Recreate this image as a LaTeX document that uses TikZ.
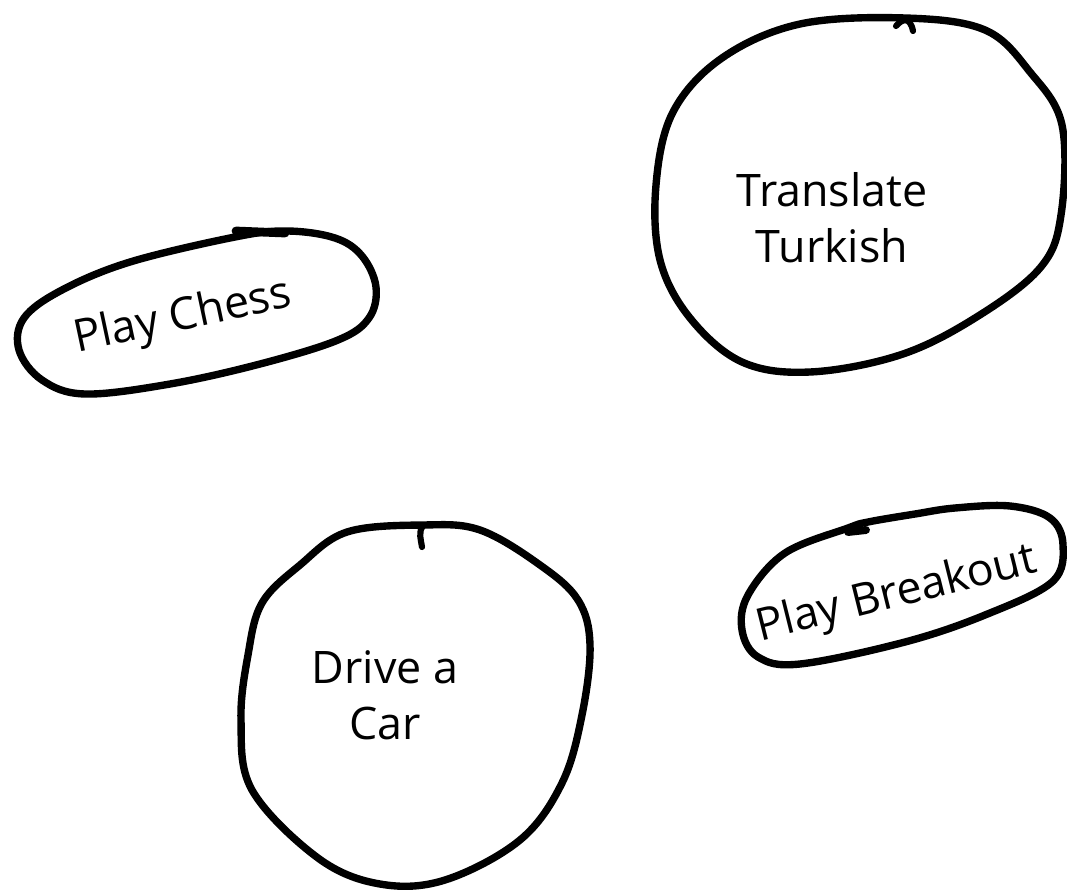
\documentclass[tikz,border=0pt]{standalone}
\usepackage{fontspec}
\setmainfont{Open Sans}
\usepackage{xcolor}
\definecolor{inkblack}{RGB}{0,0,0}

\tikzset{
  blob/.style={draw=inkblack, line width=4.2pt, line join=round, line cap=round},
  lbl/.style={font=\fontsize{25.5}{32}\selectfont, align=center, inner sep=0pt}
}

\begin{document}
\begin{tikzpicture}[x=0.02cm, y=-0.02cm]

% Background
\fill[white] (0,0) rectangle (1067,889);
\useasboundingbox (0,0) rectangle (1067,889);

% Play Chess
\draw[blob] plot[smooth cycle, tension=0.6] coordinates {
(287,231) (335,238) (362,256) (376,287) (369,318) (338,340) (260,364)
(170,384) (85,394) (42,380) (19,350) (24,318) (62,290) (130,262) (235,237)};
\draw[blob, line width=5pt] (236,231) -- (285,233);
\node[lbl, rotate=12] (chess) at (183,318) {Play Chess};

% Translate Turkish
\draw[blob] plot[smooth cycle, tension=0.6] coordinates {
(905,18) (985,30) (1030,72) (1062,125) (1061,215) (1040,268) (975,318)
(900,355) (810,372) (742,362) (690,318) (660,260) (656,185) (673,112)
(722,58) (800,24)};
\draw[blob, line width=3.5pt] (896,26) .. controls (902,19) and (910,16) .. (913,31);
\node[lbl] (turkish) at (832,218) {Translate\\Turkish};

% Drive a Car
\draw[blob] plot[smooth cycle, tension=0.6] coordinates {
(423,525) (480,530) (540,565) (578,600) (590,645) (582,715) (562,783)
(520,840) (445,880) (380,884) (318,858) (252,790) (241,720) (248,655)
(262,603) (300,565) (347,532)};
\draw[blob, line width=3.5pt] (423,526) .. controls (418,532) and (421,540) .. (422,547);
\node[lbl] (car) at (385,695) {Drive a\\Car};

% Play Breakout
\draw[blob] plot[smooth cycle, tension=0.6] coordinates {
(868,522) (915,514) (955,508) (1010,506) (1050,518) (1063,545) (1052,582)
(985,615) (905,642) (800,664) (758,657) (742,630) (748,595) (785,553) (848,528)};
\draw[blob, line width=4.5pt] (848,532) -- (866,530);
\node[lbl, rotate=14] (breakout) at (897,595) {Play Breakout};

\end{tikzpicture}
\end{document}
